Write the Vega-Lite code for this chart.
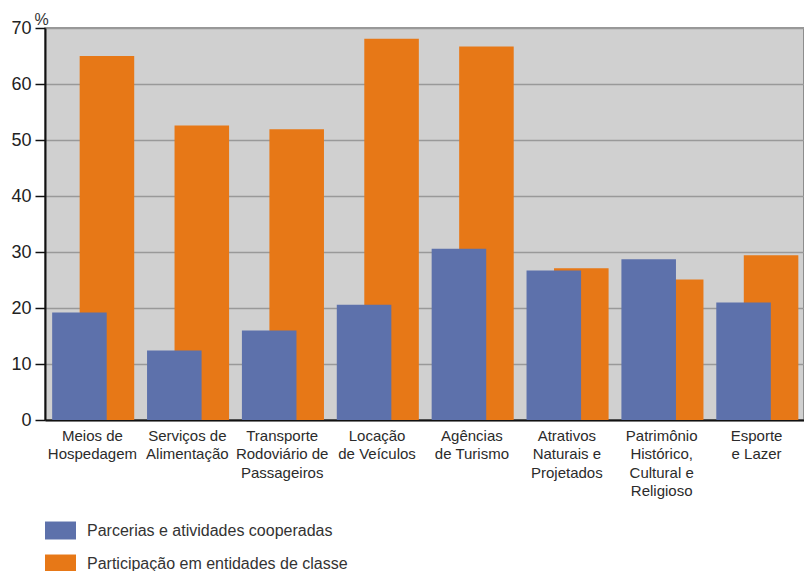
{
  "$schema": "https://vega.github.io/schema/vega-lite/v6.json",
  "autosize": "none",
  "width": 759,
  "height": 392,
  "padding": {"left": 45, "top": 28, "right": 0, "bottom": 151},
  "background": "white",
  "config": {
    "view": {"fill": "#d0d0d0", "stroke": "#777", "strokeWidth": 1.5},
    "font": "Liberation Sans"
  },
  "data": {
    "values": [
      {"categoria": "Meios de Hospedagem", "serie": "Parcerias e atividades cooperadas", "valor": 19.2},
      {"categoria": "Serviços de Alimentação", "serie": "Parcerias e atividades cooperadas", "valor": 12.4},
      {"categoria": "Transporte Rodoviário de Passageiros", "serie": "Parcerias e atividades cooperadas", "valor": 16.0},
      {"categoria": "Locação de Veículos", "serie": "Parcerias e atividades cooperadas", "valor": 20.6},
      {"categoria": "Agências de Turismo", "serie": "Parcerias e atividades cooperadas", "valor": 30.6},
      {"categoria": "Atrativos Naturais e Projetados", "serie": "Parcerias e atividades cooperadas", "valor": 26.7},
      {"categoria": "Patrimônio Histórico, Cultural e Religioso", "serie": "Parcerias e atividades cooperadas", "valor": 28.7},
      {"categoria": "Esporte e Lazer", "serie": "Parcerias e atividades cooperadas", "valor": 21.0},
      {"categoria": "Meios de Hospedagem", "serie": "Participação em entidades de classe", "valor": 65.0},
      {"categoria": "Serviços de Alimentação", "serie": "Participação em entidades de classe", "valor": 52.6},
      {"categoria": "Transporte Rodoviário de Passageiros", "serie": "Participação em entidades de classe", "valor": 51.9},
      {"categoria": "Locação de Veículos", "serie": "Participação em entidades de classe", "valor": 68.1},
      {"categoria": "Agências de Turismo", "serie": "Participação em entidades de classe", "valor": 66.7},
      {"categoria": "Atrativos Naturais e Projetados", "serie": "Participação em entidades de classe", "valor": 27.1},
      {"categoria": "Patrimônio Histórico, Cultural e Religioso", "serie": "Participação em entidades de classe", "valor": 25.1},
      {"categoria": "Esporte e Lazer", "serie": "Participação em entidades de classe", "valor": 29.4}
    ]
  },
  "encoding": {
    "x": {
      "field": "categoria",
      "type": "nominal",
      "sort": null,
      "scale": {"paddingInner": 0, "paddingOuter": 0},
      "axis": {
        "title": null,
        "labelAngle": 0,
        "labelFont": "Liberation Sans",
        "labelFontSize": 15,
        "labelColor": "#2b2b2b",
        "labelLineHeight": 18.5,
        "labelBaseline": "top",
        "labelPadding": 8,
        "ticks": false,
        "domainColor": "#111",
        "domainWidth": 2,
        "labelExpr": "({'Meios de Hospedagem': ['Meios de', 'Hospedagem'], 'Serviços de Alimentação': ['Serviços de', 'Alimentação'], 'Transporte Rodoviário de Passageiros': ['Transporte', 'Rodoviário de', 'Passageiros'], 'Locação de Veículos': ['Locação', 'de Veículos'], 'Agências de Turismo': ['Agências', 'de Turismo'], 'Atrativos Naturais e Projetados': ['Atrativos', 'Naturais e', 'Projetados'], 'Patrimônio Histórico, Cultural e Religioso': ['Patrimônio', 'Histórico,', 'Cultural e', 'Religioso'], 'Esporte e Lazer': ['Esporte', 'e Lazer']})[datum.label]"
      }
    },
    "y": {
      "field": "valor",
      "type": "quantitative",
      "scale": {"domain": [0, 70], "nice": false},
      "axis": {
        "values": [0, 10, 20, 30, 40, 50, 60, 70],
        "title": "%",
        "titleAngle": 0,
        "titleAlign": "left",
        "titleBaseline": "alphabetic",
        "titleX": -11,
        "titleY": -4,
        "titleFont": "Liberation Sans",
        "titleFontSize": 16,
        "titleFontWeight": "normal",
        "titleColor": "#333",
        "labelFont": "Liberation Sans",
        "labelFontSize": 18,
        "labelColor": "#222",
        "labelPadding": 4,
        "tickSize": 10,
        "tickColor": "#111",
        "tickWidth": 1.5,
        "domainColor": "#111",
        "domainWidth": 2,
        "gridColor": "#999",
        "gridWidth": 1.5
      }
    },
    "color": {
      "field": "serie",
      "type": "nominal",
      "scale": {
        "domain": ["Parcerias e atividades cooperadas", "Participação em entidades de classe"],
        "range": ["#5d71ab", "#e77817"]
      },
      "legend": {
        "title": null,
        "orient": "none",
        "legendX": 0,
        "legendY": 487,
        "padding": 0,
        "symbolType": "M-1,-0.58H1V0.58H-1Z",
        "symbolSize": 961,
        "symbolStrokeWidth": 0,
        "symbolOpacity": 1,
        "labelFont": "Liberation Sans",
        "labelFontSize": 16,
        "labelColor": "#333",
        "labelOffset": 11,
        "rowPadding": 8,
        "labelLimit": 400
      }
    }
  },
  "layer": [
    {
      "transform": [{"filter": "datum.serie === 'Participação em entidades de classe'"}],
      "mark": {"type": "bar", "width": {"band": 0.575}, "xOffset": 14.5}
    },
    {
      "transform": [{"filter": "datum.serie === 'Parcerias e atividades cooperadas'"}],
      "mark": {"type": "bar", "width": {"band": 0.575}, "xOffset": -13}
    }
  ]
}
